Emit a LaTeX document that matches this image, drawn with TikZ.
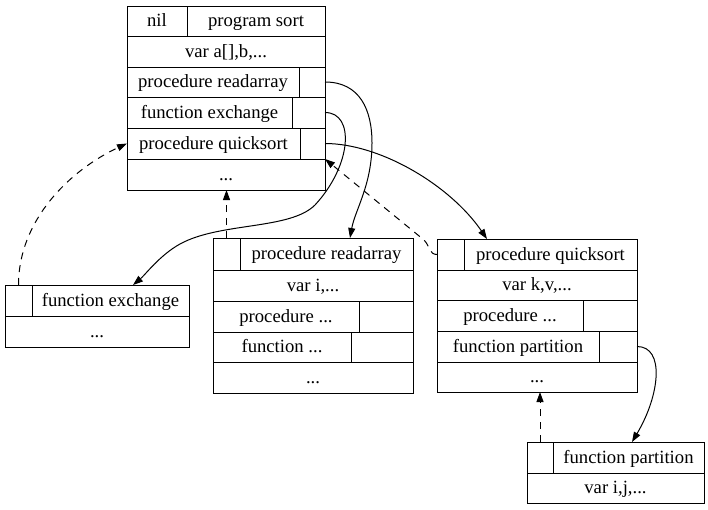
\documentclass[tikz,border=0pt]{standalone}
\usepackage{fontspec}
\setmainfont{Liberation Serif}
\usetikzlibrary{arrows.meta}
\tikzset{
  cell/.style={draw, line width=1pt, inner sep=0pt, outer sep=0pt, text height=13pt, text depth=2pt, font=\fontsize{18.67}{21}\selectfont},
  link/.style={line width=1pt, -{Triangle[length=10pt,width=7pt]}},
  backlink/.style={link, dash pattern=on 7pt off 6pt},
}
\newcommand\rcell[6]{\node[cell, minimum width={#4-#2}, minimum height={#5-#3}] (#1) at ({(#2+#4)/2},{(#3+#5)/2}) {#6};}
\begin{document}
\begin{tikzpicture}[x=1pt,y=-1pt]
\useasboundingbox (0,0) rectangle (708,509);
% top box
\rcell{T1a}{127}{6}{187}{36}{nil}
\rcell{T1b}{187}{6}{325}{36}{program sort}
\rcell{T2}{127}{36}{325}{67}{var a[],b,...}
\rcell{T3a}{127}{67}{299}{97}{procedure readarray}
\rcell{T3p}{299}{67}{325}{97}{}
\rcell{T4a}{127}{97}{292}{128}{function exchange}
\rcell{T4p}{292}{97}{325}{128}{}
\rcell{T5a}{127}{128}{300}{159}{procedure quicksort}
\rcell{T5p}{300}{128}{325}{159}{}
\rcell{T6}{127}{159}{325}{190}{...}
% exchange box
\rcell{E1p}{5}{285}{32}{316}{}
\rcell{E1}{32}{285}{189}{316}{function exchange}
\rcell{E2}{5}{316}{189}{347}{...}
% readarray box
\rcell{R1p}{213}{238}{240}{270}{}
\rcell{R1}{240}{238}{413}{270}{procedure readarray}
\rcell{R2}{213}{270}{413}{301}{var i,...}
\rcell{R3}{213}{301}{359}{332}{procedure ...}
\rcell{R3p}{359}{301}{413}{332}{}
\rcell{R4}{213}{332}{351}{362}{function ...}
\rcell{R4p}{351}{332}{413}{362}{}
\rcell{R5}{213}{362}{413}{393}{...}
% quicksort box
\rcell{Q1p}{437}{239}{464}{270}{}
\rcell{Q1}{464}{239}{637}{270}{procedure quicksort}
\rcell{Q2}{437}{270}{637}{300}{var k,v,...}
\rcell{Q3}{437}{300}{583}{331}{procedure ...}
\rcell{Q3p}{583}{300}{637}{331}{}
\rcell{Q4}{437}{331}{599}{362}{function partition}
\rcell{Q4p}{599}{331}{637}{362}{}
\rcell{Q5}{437}{362}{637}{392}{...}
% partition box
\rcell{P1p}{527}{442}{553}{473}{}
\rcell{P1}{553}{442}{704}{473}{function partition}
\rcell{P2}{527}{473}{704}{503}{var i,j,...}
% solid links
\draw[link] (T3p.east) .. controls +(35,0) and (372,110) .. (372,143)
  .. controls (372,185) and (355,210) .. ([xshift=23.5]R1.north);
\draw[link] (T4p.east) .. controls +(30,0) and (352,165) .. (315,205)
  .. controls (290,230) and (220,222) .. (180,244)
  .. controls (160,255) and (145,275) .. ([xshift=22.5]E1.north);
\draw[link] (T5p.east) .. controls +(55,0) and (450,185) .. ([xshift=-63.5]Q1.north);
\draw[link] (Q4p.east) .. controls +(28,0) and (660,395) .. ([xshift=3.5]P1.north);
% dashed links
\draw[backlink] (E1p.north) .. controls +(0,-65) and (70,170) .. (T5a.west);
\draw[backlink] (R1p.north) -- (R1p.north |- T6.south);
\draw[backlink] (Q1p.west) .. controls +(-8,0) and (430,246) .. (424,240) -- (T6.north east);
\draw[backlink] (P1p.north) -- (P1p.north |- Q5.south);
\end{tikzpicture}
\end{document}
